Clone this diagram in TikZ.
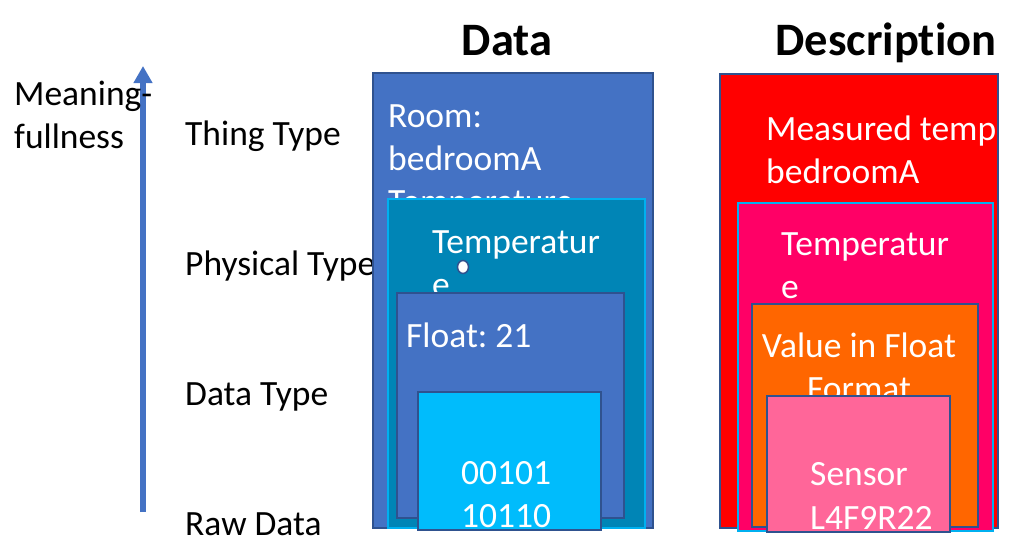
\documentclass[tikz,border=0pt]{standalone}
\usepackage{fontspec}
\setmainfont{Carlito}[Ligatures=NoCommon]
\usetikzlibrary{arrows.meta,shapes.geometric}
\frenchspacing
\definecolor{boxblue}{HTML}{4472C4}
\definecolor{edgeblue}{HTML}{2F528F}
\definecolor{skyedge}{HTML}{00B0F0}
\definecolor{tealfill}{HTML}{0085B6}
\definecolor{rawblue}{HTML}{00BCFC}
\definecolor{rosefill}{HTML}{FF0066}
\definecolor{orangefill}{HTML}{FF6600}
\definecolor{pinkfill}{HTML}{FF6699}
\tikzset{
  lbl/.style={anchor=base west, inner sep=0pt, font=\fontsize{35.5}{43}\selectfont},
  inlbl/.style={lbl, text=white},
  title/.style={anchor=base, inner sep=0pt, font=\fontsize{46.5}{50}\selectfont\bfseries},
  darkbox/.style={draw=edgeblue, line width=1.6pt},
  skybox/.style={draw=skyedge, line width=1.8pt},
}
\begin{document}
\begin{tikzpicture}[x=1pt,y=-1pt]
\useasboundingbox (0,0) rectangle (1012,547);

% column titles
\node[title] (tdata) at (507,55) {Data};
\node[title] (tdesc) at (886,55) {Description};

% meaningfulness axis
\coordinate (axlow) at (143,512);
\coordinate (axhigh) at (143,66);
\draw[boxblue, line width=5.5pt, -{Triangle[width=18pt,length=17pt]}] (axlow) -- (axhigh);
\node[lbl] (m1) at (14,105) {Meaning-};
\node[lbl] (m2) at (14,148) {fullness};

% level names
\node[lbl] (lthing) at (185,145) {Thing Type};
\node[lbl] (lphys) at (185,275) {Physical Type};
\node[lbl] (ldata) at (185,405) {Data Type};
\node[lbl] (lraw) at (185,535) {Raw Data};

% ---- data column ----
\fill[boxblue] (373,73) rectangle (653,528);
\draw[darkbox] (373,73) rectangle (653,528);
\node[inlbl] (d1a) at (388,127) {Room:};
\node[inlbl] (d1b) at (388,170) {bedroomA};
\node[inlbl] (d1c) at (388,213) {Temperature};

\fill[tealfill] (388,199) rectangle (645,528);
\draw[skybox] (388,199) rectangle (645,528);
\node[inlbl] (d2a) at (432,253) {Temperatur};
\node[inlbl] (d2b) at (432,296) {e};
\node[draw=edgeblue, fill=white, line width=1.5pt, ellipse, minimum width=11pt, minimum height=13pt, inner sep=0pt] (dot) at (463,267) {};

\fill[boxblue] (397,293) rectangle (624,518);
\draw[darkbox] (397,293) rectangle (624,518);
\node[inlbl] (d3) at (406,347) {Float: 21};

\fill[rawblue] (418,392) rectangle (601,530);
\draw[darkbox] (418,392) rectangle (601,530);
\node[inlbl] (d4a) at (461,484) {00101};
\node[inlbl] (d4b) at (461,527) {10110};

% ---- description column ----
\fill[red] (720,74) rectangle (998,528);
\begin{scope}
  \clip (720,74) rectangle (998,528);
  \node[inlbl] (e1a) at (766,140) {Measured temp};
  \node[inlbl] (e1b) at (766,183) {bedroomA};
\end{scope}
\draw[darkbox] (720,74) rectangle (998,528);

\fill[rosefill] (738,203) rectangle (993,531);
\draw[skybox] (738,203) rectangle (993,531);
\node[inlbl] (e2a) at (781,255) {Temperatur};
\node[inlbl] (e2b) at (781,298) {e};

\fill[orangefill] (752,304) rectangle (978,527);
\draw[darkbox] (752,304) rectangle (978,527);
\node[inlbl, anchor=base] (e3a) at (859,357) {Value in Float};
\node[inlbl, anchor=base] (e3b) at (859,400) {Format};

\fill[pinkfill] (767,396) rectangle (950,532);
\draw[darkbox] (767,396) rectangle (950,532);
\node[inlbl] (e4a) at (810,485) {Sensor};
\node[inlbl] (e4b) at (810,529) {L4F9R22};
\end{tikzpicture}
\end{document}
